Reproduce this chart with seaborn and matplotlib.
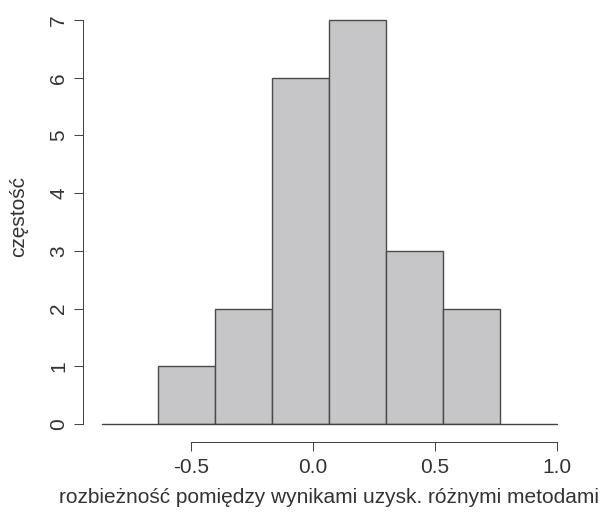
import numpy as np
import pandas as pd
import seaborn as sns
import matplotlib.pyplot as plt

# histogram: bin edges and count in each bin
bin_edges = [-0.636, -0.402, -0.168, 0.066, 0.300, 0.534, 0.768]
counts = [1, 2, 6, 7, 3, 2]
x_ticks = [-0.5, 0.0, 0.5, 1.0]
x_tick_labels = ['-0.5', '0.0', '0.5', '1.0']
y_ticks = [0, 1, 2, 3, 4, 5, 6, 7]

centers = [(a + b) / 2 for a, b in zip(bin_edges[:-1], bin_edges[1:])]
df = pd.DataFrame({'roznica': centers, 'n': counts})

sns.set_style('ticks')
plt.rcParams['font.family'] = ['Liberation Sans', 'DejaVu Sans']

fig = plt.figure(figsize=(6.06, 5.13), dpi=100)
ax = fig.add_axes([0.1678, 0.1735, 0.7508, 0.810])

sns.histplot(data=df, x='roznica', weights='n', bins=bin_edges,
             color='#c6c6c8', edgecolor='#4a4a4a', linewidth=1.0, alpha=1, ax=ax)
ax.axhline(0, color='#444444', lw=1.0, clip_on=False)

ax.set_xlim(-0.867, 1.0)
ax.set_ylim(0, 7.2)

# R style detached axes
sns.despine(ax=ax)
ax.spines['left'].set_position(('outward', 13.7))
ax.spines['bottom'].set_position(('outward', 12.7))
ax.spines['left'].set_bounds(0, 7)
ax.spines['bottom'].set_bounds(-0.5, 1.0)
for s in ['left', 'bottom']:
    ax.spines[s].set_color('#444444')
    ax.spines[s].set_linewidth(0.75)

ax.set_xticks(x_ticks)
ax.set_xticklabels(x_tick_labels)
ax.set_yticks(y_ticks)
ax.tick_params(direction='out', length=6.5, width=0.75, colors='#444444',
               labelsize=15, labelcolor='#333333')
ax.tick_params(axis='x', pad=5)
ax.tick_params(axis='y', pad=4)
for lab in ax.get_yticklabels():
    lab.set_rotation(90)
    lab.set_va('center')

ax.set_xlabel('rozbieżność pomiędzy wynikami uzysk. różnymi metodami',
              fontsize=15, color='#333333')
ax.set_ylabel('częstość', fontsize=15, color='#333333')
ax.xaxis.set_label_coords(0.5, -0.155)
ax.yaxis.set_label_coords(-0.161, 0.5)

fig.savefig('out.png', dpi=100)
